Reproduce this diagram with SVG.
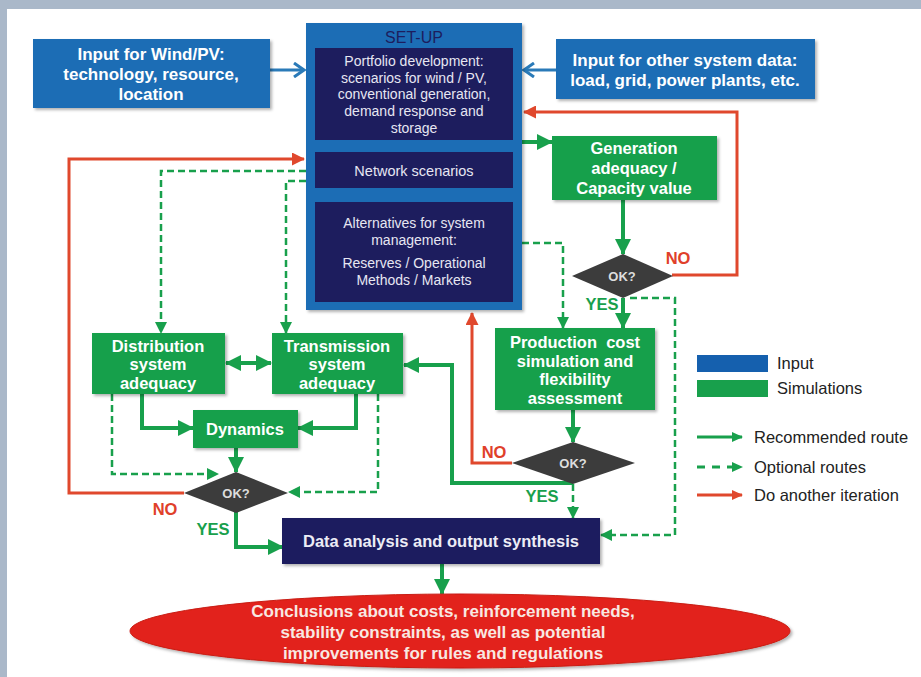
<svg xmlns="http://www.w3.org/2000/svg" width="921" height="677" viewBox="0 0 921 677">
<defs>
<style>
text{font-family:"Liberation Sans",Arial,sans-serif;text-anchor:middle;dominant-baseline:central}
.inp{fill:#1b6db5}
.nav{fill:#1d1d5e}
.grn{fill:#18a04c}
.dia{fill:#3c3c3c}
.sh{filter:url(#sh)}
.tw{fill:#ffffff;font-weight:bold;font-size:17px}
.tg{fill:#ffffff;font-weight:bold;font-size:16.5px}
.tn{fill:#e6e6f2;font-size:14px}
.ok{fill:#dddddd;font-weight:bold;font-size:13px}
.no{fill:#e0402a;font-weight:bold;font-size:16.5px}
.yes{fill:#18a04c;font-weight:bold;font-size:16.5px}
.leg{fill:#222222;font-size:16.5px;text-anchor:start}
.cg{fill:none;stroke:#18a04c;stroke-width:4}
.cd{fill:none;stroke:#18a04c;stroke-width:2.5;stroke-dasharray:7 4}
.cr{fill:none;stroke:#e0482d;stroke-width:3}
.cb{fill:none;stroke:#2a7ab8;stroke-width:3}
</style>
<filter id="sh" x="-10%" y="-10%" width="130%" height="130%">
<feDropShadow dx="2" dy="2" stdDeviation="1.5" flood-color="#000" flood-opacity="0.3"/>
</filter>
<marker id="ag" markerUnits="userSpaceOnUse" markerWidth="16" markerHeight="16" viewBox="0 0 16 16" refX="15" refY="8" orient="auto-start-reverse"><path d="M0,0 L16,8 L0,16 z" fill="#18a04c"/></marker>
<marker id="ad" markerUnits="userSpaceOnUse" markerWidth="12" markerHeight="12" viewBox="0 0 12 12" refX="11" refY="6" orient="auto"><path d="M0,0 L12,6 L0,12 z" fill="#18a04c"/></marker>
<marker id="ar" markerUnits="userSpaceOnUse" markerWidth="13" markerHeight="13" viewBox="0 0 13 13" refX="12" refY="6.5" orient="auto"><path d="M0,0 L13,6.5 L0,13 z" fill="#e0482d"/></marker>
<marker id="ab" markerUnits="userSpaceOnUse" markerWidth="14" markerHeight="16" viewBox="0 0 14 16" refX="12" refY="8" orient="auto"><path d="M2,1 L12,8 L2,15" fill="none" stroke="#2a7ab8" stroke-width="3"/></marker>
<marker id="al" markerUnits="userSpaceOnUse" markerWidth="11" markerHeight="10" viewBox="0 0 11 10" refX="10" refY="5" orient="auto"><path d="M0,0 L11,5 L0,10 z" fill="#18a04c"/></marker>
<marker id="alr" markerUnits="userSpaceOnUse" markerWidth="11" markerHeight="10" viewBox="0 0 11 10" refX="10" refY="5" orient="auto"><path d="M0,0 L11,5 L0,10 z" fill="#e0482d"/></marker>
</defs>
<rect x="0" y="0" width="921" height="677" fill="#aab8c9"/>
<rect x="7" y="9" width="914" height="668" fill="#ffffff"/>

<g id="connectors">
<path class="cb" d="M270,70 H304" marker-end="url(#ab)"/>
<path class="cb" d="M556,70 H524" marker-end="url(#ab)"/>
<path class="cr" d="M672,275 H737 V112 H524" marker-end="url(#ar)"/>
<path class="cr" d="M512,463 H472 V313" marker-end="url(#ar)"/>
<path class="cr" d="M184,493 H69 V159 H304" marker-end="url(#ar)"/>
<path class="cg" d="M522,142 H552" marker-end="url(#ag)"/>
<path class="cg" d="M623,200 V254" marker-end="url(#ag)"/>
<path class="cg" d="M623,298 V328" marker-end="url(#ag)"/>
<path class="cg" d="M573,410 V442" marker-end="url(#ag)"/>
<path class="cg" d="M573,483 H452 V365 H404" marker-end="url(#ag)"/>
<path class="cg" d="M226,363 H271" marker-start="url(#ag)" marker-end="url(#ag)"/>
<path class="cg" d="M142,394 V428 H193" marker-end="url(#ag)"/>
<path class="cg" d="M356,394 V428 H298" marker-end="url(#ag)"/>
<path class="cg" d="M236,448 V472" marker-end="url(#ag)"/>
<path class="cg" d="M236,512 V547 H283" marker-end="url(#ag)"/>
<path class="cg" d="M442,564 V594" marker-end="url(#ag)"/>
<path class="cd" d="M573,484 V518" marker-end="url(#ad)"/>
<path class="cd" d="M306,171 H161 V333" marker-end="url(#ad)"/>
<path class="cd" d="M306,181 H286 V333" marker-end="url(#ad)"/>
<path class="cd" d="M522,243 H563 V328" marker-end="url(#ad)"/>
<path class="cd" d="M630,298 H675 V535 H601" marker-end="url(#ad)"/>
<path class="cd" d="M112,394 V474 H218" marker-end="url(#ad)"/>
<path class="cd" d="M378,394 V492 H289" marker-end="url(#ad)"/>
</g>

<g id="input-wind">
<rect class="inp sh" x="33" y="39" width="237" height="69"/>
<text class="tw" x="151" y="54">Input for Wind/PV:</text>
<text class="tw" x="151" y="74">technology, resource,</text>
<text class="tw" x="151" y="94">location</text>
</g>

<g id="input-other">
<rect class="inp sh" x="556" y="39" width="259" height="60"/>
<text class="tw" x="685" y="60">Input for other system data:</text>
<text class="tw" x="685" y="80">load, grid, power plants, etc.</text>
</g>

<g id="setup">
<rect class="inp sh" x="306" y="23" width="216" height="287"/>
<text x="414" y="37" style="fill:#1d1d5e;font-size:16px">SET-UP</text>
</g>

<g id="portfolio">
<rect class="nav" x="315" y="48" width="198" height="92"/>
<text class="tn" x="414" y="61">Portfolio development:</text>
<text class="tn" x="414" y="78">scenarios for wind / PV,</text>
<text class="tn" x="414" y="94">conventional generation,</text>
<text class="tn" x="414" y="111">demand response and</text>
<text class="tn" x="414" y="128">storage</text>
</g>

<g id="network">
<rect class="nav" x="315" y="152" width="198" height="36"/>
<text class="tn" x="414" y="171" style="font-size:14.5px">Network scenarios</text>
</g>

<g id="alternatives">
<rect class="nav" x="315" y="202" width="198" height="100"/>
<text class="tn" x="414" y="223">Alternatives for system</text>
<text class="tn" x="414" y="240">management:</text>
<text class="tn" x="414" y="263">Reserves / Operational</text>
<text class="tn" x="414" y="280">Methods / Markets</text>
</g>

<g id="generation">
<rect class="grn sh" x="552" y="136" width="165" height="64"/>
<text class="tg" x="634" y="148">Generation</text>
<text class="tg" x="634" y="168">adequacy /</text>
<text class="tg" x="634" y="188">Capacity value</text>
</g>

<g id="ok1">
<polygon class="dia" points="572,276 623,254 673,276 623,298"/>
<text class="ok" x="622" y="276">OK?</text>
<text class="no" x="678" y="258">NO</text>
<text class="yes" x="602" y="304">YES</text>
</g>

<g id="production">
<rect class="grn sh" x="495" y="328" width="160" height="82"/>
<text class="tg" x="575" y="342" xml:space="preserve">Production  cost</text>
<text class="tg" x="575" y="361">simulation and</text>
<text class="tg" x="575" y="379">flexibility</text>
<text class="tg" x="575" y="398">assessment</text>
</g>

<g id="ok2">
<polygon class="dia" points="512,463 573,442 635,463 573,484"/>
<text class="ok" x="573" y="463">OK?</text>
<text class="no" x="494" y="452">NO</text>
<text class="yes" x="542" y="496">YES</text>
</g>

<g id="distribution">
<rect class="grn sh" x="92" y="333" width="133" height="61"/>
<text class="tg" x="158" y="346">Distribution</text>
<text class="tg" x="158" y="364">system</text>
<text class="tg" x="158" y="383">adequacy</text>
</g>

<g id="transmission">
<rect class="grn sh" x="272" y="333" width="131" height="61"/>
<text class="tg" x="337" y="346">Transmission</text>
<text class="tg" x="337" y="364">system</text>
<text class="tg" x="337" y="383">adequacy</text>
</g>

<g id="dynamics">
<rect class="grn sh" x="193" y="410" width="105" height="38"/>
<text class="tg" x="245" y="429">Dynamics</text>
</g>

<g id="ok3">
<polygon class="dia" points="184,493 236,472 288,493 236,513"/>
<text class="ok" x="236" y="493">OK?</text>
<text class="no" x="165" y="509">NO</text>
<text class="yes" x="213" y="529">YES</text>
</g>

<g id="data-analysis">
<rect class="nav sh" x="282" y="518" width="318" height="46"/>
<text x="441" y="541" style="fill:#ececf6;font-weight:bold;font-size:16.5px">Data analysis and output synthesis</text>
</g>

<g id="conclusions">
<ellipse class="sh" cx="460" cy="631" rx="330" ry="37" fill="#e2231a" stroke="#c81c14" stroke-width="1"/>
<text x="443" y="611" style="fill:#f8e8e2;font-weight:bold;font-size:17px">Conclusions about costs, reinforcement needs,</text>
<text x="443" y="632" style="fill:#f8e8e2;font-weight:bold;font-size:17px">stability constraints, as well as potential</text>
<text x="443" y="653" style="fill:#f8e8e2;font-weight:bold;font-size:17px">improvements for rules and regulations</text>
</g>

<g id="legend">
<rect x="697" y="355" width="71" height="17" fill="#1560ae"/>
<text class="leg" x="777" y="363">Input</text>
<rect x="697" y="380" width="71" height="17" fill="#18a04c"/>
<text class="leg" x="777" y="388">Simulations</text>
<path d="M697,437 H742" fill="none" stroke="#18a04c" stroke-width="3" marker-end="url(#al)"/>
<text class="leg" x="754" y="437">Recommended route</text>
<path d="M697,467 H742" fill="none" stroke="#18a04c" stroke-width="3" stroke-dasharray="8 7" marker-end="url(#al)"/>
<text class="leg" x="754" y="467">Optional routes</text>
<path d="M697,495 H742" fill="none" stroke="#e0482d" stroke-width="3" marker-end="url(#alr)"/>
<text class="leg" x="754" y="495">Do another iteration</text>
</g>
</svg>
